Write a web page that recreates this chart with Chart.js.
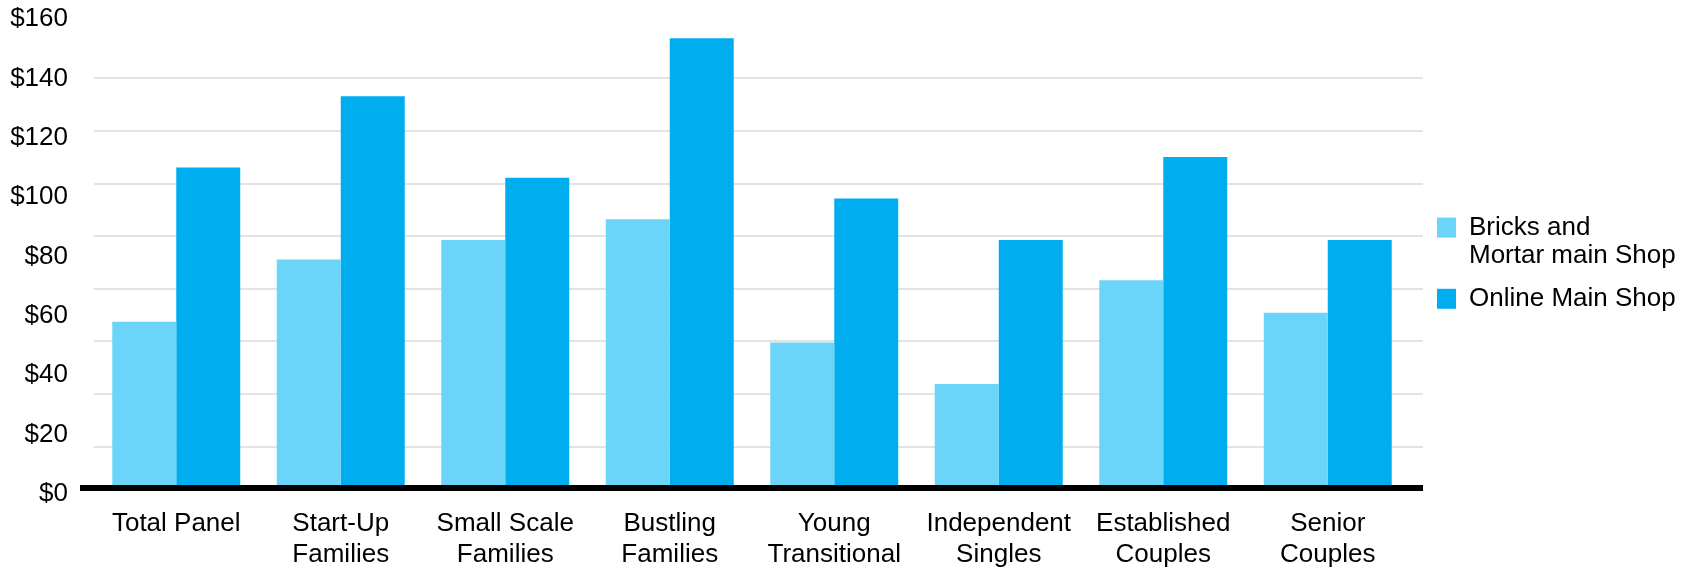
<!DOCTYPE html>
<html>
<head>
<meta charset="utf-8">
<script src="https://cdn.jsdelivr.net/npm/chart.js@4"></script>
<style>
  html, body { margin: 0; padding: 0; background: #fff; }
  #wrap { width: 1684px; height: 570px; position: relative; }
</style>
</head>
<body>
<div id="wrap"><canvas id="chart"></canvas></div>
<script>
const categories = [
  'Total Panel',
  ['Start-Up', 'Families'],
  ['Small Scale', 'Families'],
  ['Bustling', 'Families'],
  ['Young', 'Transitional'],
  ['Independent', 'Singles'],
  ['Established', 'Couples'],
  ['Senior', 'Couples']
];
const bricksLabel = ['Bricks and', 'Mortar main Shop'];
const onlineLabel = ['Online Main Shop'];
const bricksValues = [56, 77, 83.5, 90.5, 49, 35, 70, 59];
const onlineValues = [108, 132, 104.5, 151.5, 97.5, 83.5, 111.5, 83.5];
const yMin = 0, yMax = 160, yStep = 20;
// grey gridlines on the slide don't line up with the $20 labels
const gridStart = 13.9, gridStep = 17.73, gridCount = 8;

Chart.defaults.font.family = '"Liberation Sans", Arial, sans-serif';
Chart.defaults.font.size = 26;
Chart.defaults.color = '#000';

new Chart(document.getElementById('chart'), {
  type: 'bar',
  data: {
    labels: categories,
    datasets: [
      { label: bricksLabel, data: bricksValues, backgroundColor: '#6AD5F8' },
      { label: onlineLabel, data: onlineValues, backgroundColor: '#00AEEF' }
    ]
  },
  options: {
    responsive: true,
    maintainAspectRatio: false,
    animation: false,
    layout: { padding: { top: 13, left: 10, right: 3, bottom: 0 } },
    datasets: { bar: { categoryPercentage: 0.778, barPercentage: 1 } },
    plugins: {
      tooltip: { enabled: false },
      legend: {
        position: 'right',
        fullSize: false,
        maxWidth: 258,
        title: { display: true, text: ' ', font: { size: 28, lineHeight: 1 }, padding: 0 },
        labels: {
          boxWidth: 19,
          boxHeight: 20,
          padding: 14,
          font: { size: 26, lineHeight: 1.1 }
        }
      }
    },
    scales: {
      x: {
        grid: { display: false, drawTicks: false },
        border: { display: false },
        ticks: { padding: 20, maxRotation: 0, autoSkip: false, font: { size: 26, lineHeight: 1.2 } },
        afterFit: s => { s.height = 82; }
      },
      y: {
        min: yMin,
        max: yMax,
        z: 1,
        border: { display: false },
        grid: {
          color: c => c.tick && c.tick.value === 0 ? '#000' : 'rgba(0,0,0,0)',
          lineWidth: c => c.tick && c.tick.value === 0 ? 6 : 0,
          tickLength: 14
        },
        ticks: {
          stepSize: yStep,
          padding: 12,
          labelOffset: 6,
          font: { size: 26, lineHeight: 1 },
          callback: v => '$' + v
        },
        afterFit: s => { s.width = 84; s.paddingTop = 0; }
      },
      y2: {
        position: 'right',
        min: 1 - gridStart / gridStep,
        max: 1 + (yMax - gridStart) / gridStep,
        border: { display: false },
        grid: {
          color: c => {
            const v = c.tick ? c.tick.value : null;
            if (v !== null && v < 0.5) return '#000';
            return Number.isInteger(v) && v >= 1 && v <= gridCount ? '#E3E3E3' : 'rgba(0,0,0,0)';
          },
          lineWidth: c => (c.tick && c.tick.value < 0.5) ? 6 : 2,
          tickLength: 13
        },
        ticks: { display: false, stepSize: 1 }
      }
    }
  }
});
</script>
</body>
</html>
